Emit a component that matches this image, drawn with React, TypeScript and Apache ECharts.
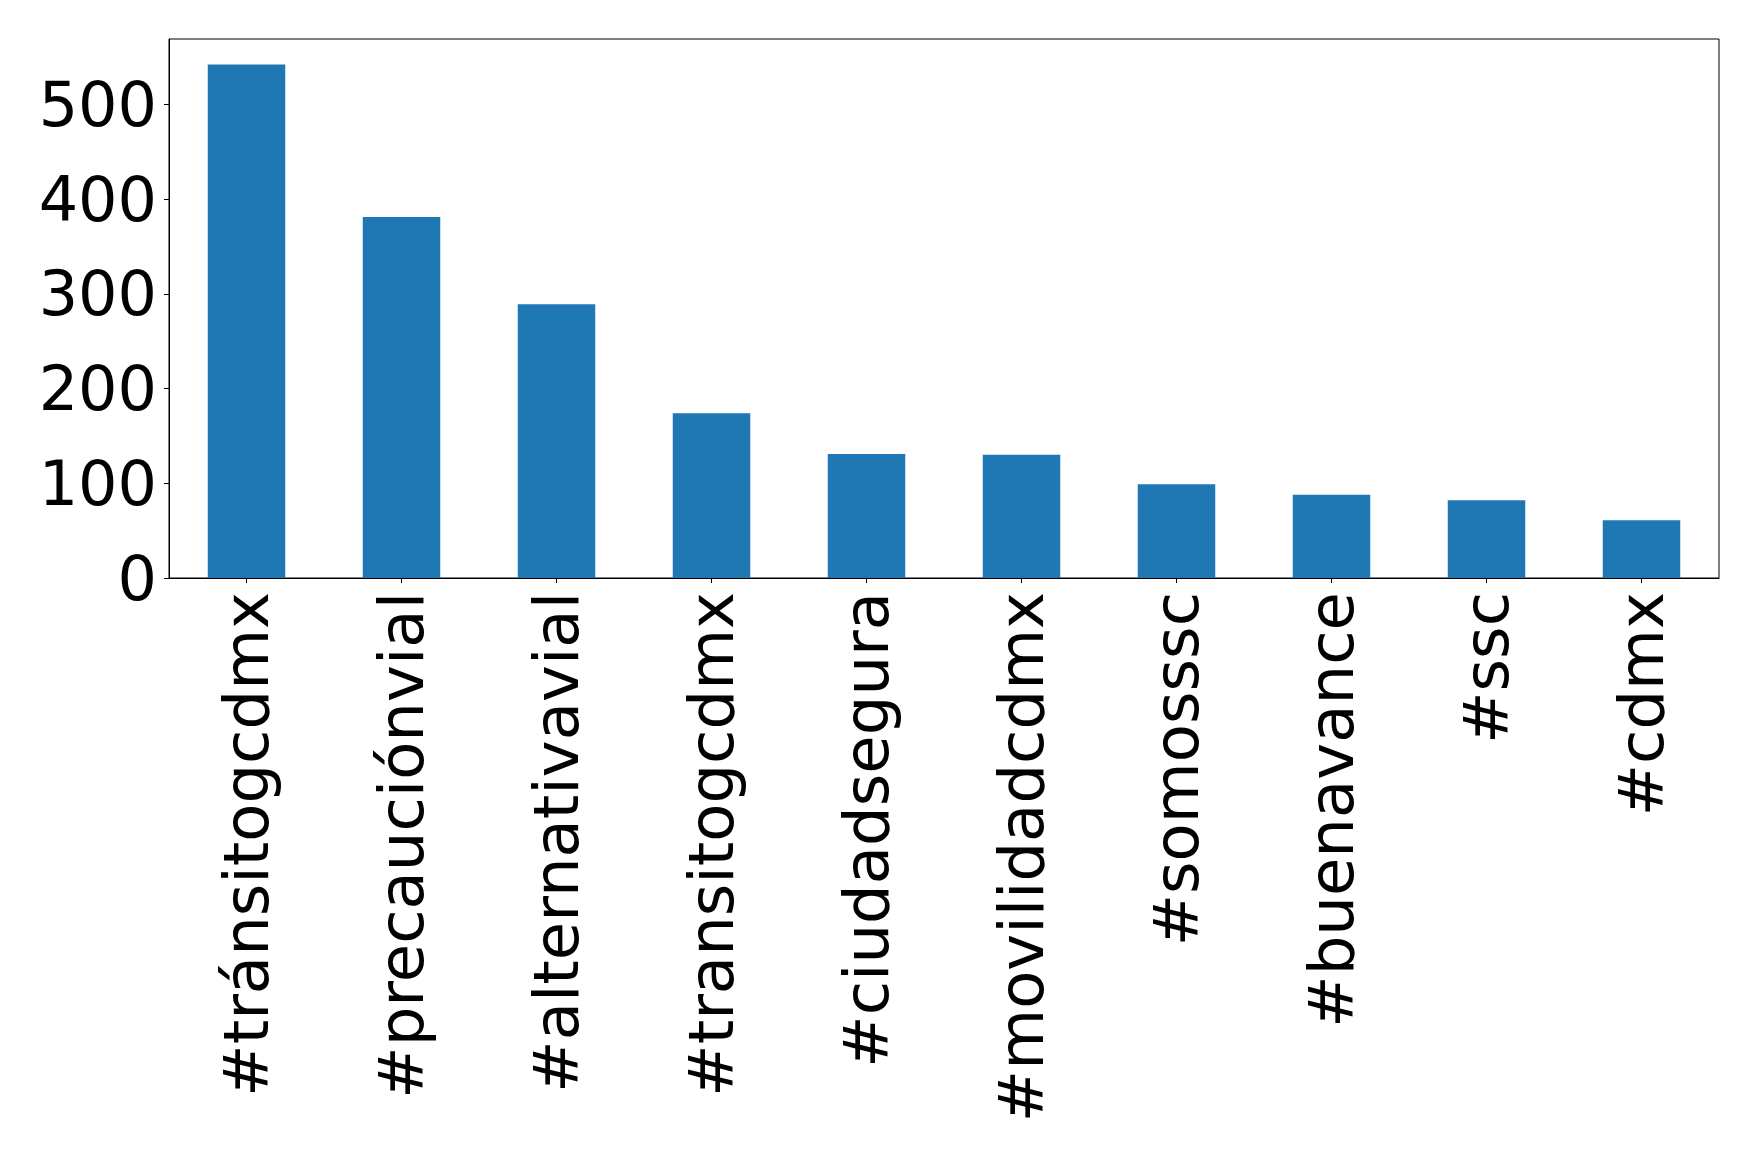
import React, { useEffect, useRef } from "react";
import * as echarts from "echarts";

const categories = [
  "#tránsitogcdmx",
  "#precauciónvial",
  "#alternativavial",
  "#transitogcdmx",
  "#ciudadsegura",
  "#movilidadcdmx",
  "#somosssc",
  "#buenavance",
  "#ssc",
  "#cdmx",
];
const counts = [542, 381, 289, 174, 131, 130, 99, 88, 82, 61];
const yTicks = [0, 100, 200, 300, 400, 500];
const yMax = 569;

export default function App() {
  const ref = useRef<HTMLDivElement>(null);
  useEffect(() => {
    if (!ref.current) return;
    const chart = echarts.init(ref.current, undefined, { renderer: "svg" });
    const font = "DejaVu Sans";
    chart.setOption({
      animation: false,
      backgroundColor: "#ffffff",
      grid: {
        left: 169,
        top: 39,
        width: 1550,
        height: 539,
        show: true,
        borderColor: "#000000",
        borderWidth: 1,
        backgroundColor: "transparent",
        containLabel: false,
      },
      xAxis: {
        type: "category",
        data: categories,
        axisLine: { show: true, lineStyle: { color: "#000", width: 1 } },
        axisTick: {
          show: true,
          alignWithLabel: true,
          length: 5,
          lineStyle: { color: "#000", width: 1 },
        },
        axisLabel: {
          rotate: 90,
          interval: 0,
          fontSize: 62.5,
          fontFamily: font,
          color: "#000",
          margin: 14,
        },
        splitLine: { show: false },
      },
      yAxis: {
        type: "value",
        min: 0,
        max: yMax,
        interval: 100,
        axisLine: { show: true, lineStyle: { color: "#000", width: 1 } },
        axisTick: {
          show: true,
          length: 5,
          customValues: yTicks,
          lineStyle: { color: "#000", width: 1 },
        },
        axisLabel: {
          fontSize: 62,
          fontFamily: font,
          color: "#000",
          margin: 12,
          customValues: yTicks,
        },
        splitLine: { show: false },
      },
      series: [
        {
          type: "bar",
          data: counts,
          barWidth: "50%",
          itemStyle: { color: "#1f77b4" },
        },
      ],
    });
    return () => chart.dispose();
  }, []);
  return (
    <div
      ref={ref}
      style={{ position: "fixed", left: 0, top: 0, width: 1759, height: 1158, background: "#fff" }}
    />
  );
}
